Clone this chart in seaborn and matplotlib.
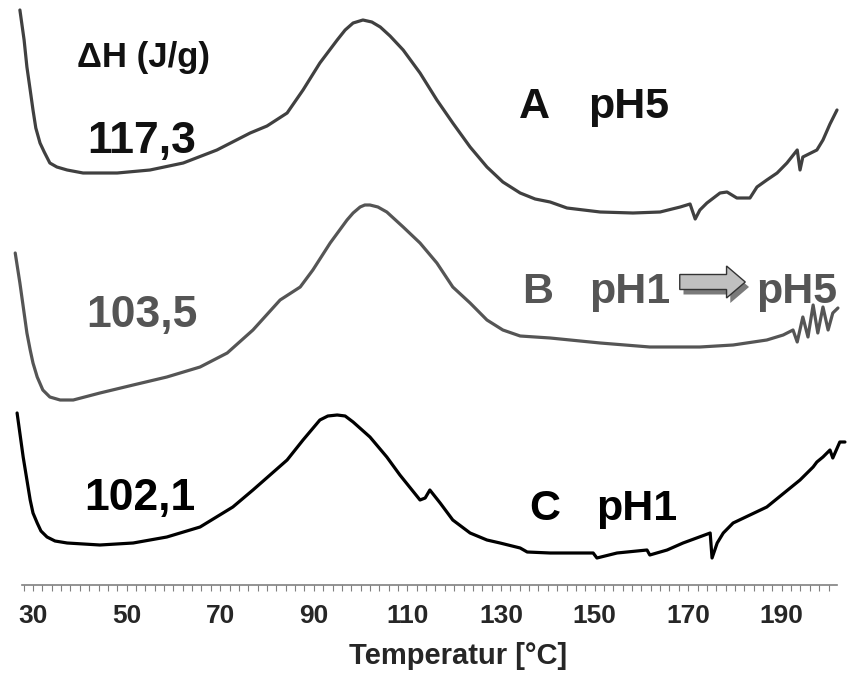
import matplotlib
matplotlib.use("Agg")
import matplotlib.pyplot as plt
import seaborn as sns
import pandas as pd
from matplotlib.patches import FancyArrow
from matplotlib.ticker import MultipleLocator, FixedLocator

# DSC traces (temperature in degC, heat flow in a.u.)
temp_a = [27.2, 28.1, 28.7, 29.4, 30.0, 30.6, 31.5, 32.4, 33.6, 35.1, 37.3, 40.7, 48.0,
          55.0, 62.1, 69.3, 76.4, 80.0, 84.3, 87.7, 91.3, 95.0, 96.7, 98.4, 100.5,
          102.4, 104.2, 106.3, 109.1, 112.7, 116.3, 119.7, 123.4, 127.0, 130.4, 134.1,
          137.3, 140.5, 144.1, 151.2, 158.2, 164.0, 168.3, 170.4, 171.5, 172.5, 174.0,
          176.8, 178.3, 180.4, 183.2, 184.7, 186.8, 189.0, 191.1, 193.3, 193.9, 194.5,
          197.5, 198.8, 200.3, 201.8]
flow_a = [5.90, 5.60, 5.33, 5.10, 4.90, 4.72, 4.57, 4.48, 4.37, 4.33, 4.30, 4.27, 4.27,
          4.30, 4.37, 4.50, 4.67, 4.74, 4.87, 5.10, 5.37, 5.60, 5.70, 5.77, 5.80,
          5.78, 5.73, 5.64, 5.50, 5.27, 5.00, 4.77, 4.53, 4.33, 4.18, 4.07,
          4.01, 3.98, 3.92, 3.88, 3.87, 3.88, 3.93, 3.96, 3.81, 3.90, 3.97,
          4.07, 4.08, 4.02, 4.02, 4.13, 4.20, 4.27, 4.37, 4.50, 4.30, 4.43,
          4.50, 4.60, 4.76, 4.90]

temp_b = [26.2, 27.2, 28.7, 29.4, 30.0, 30.9, 32.1, 33.6, 35.8, 38.6, 44.3, 51.4, 58.6,
          65.7, 71.5, 77.0, 82.8, 87.1, 89.8, 93.5, 97.1, 98.4, 99.9, 100.9, 102.0,
          103.7, 105.6, 109.1, 112.7, 116.3, 119.7, 123.4, 127.0, 130.4, 134.1, 140.5,
          151.2, 161.8, 172.5, 179.6, 186.8, 190.3, 192.4, 193.3, 194.5, 195.6, 196.7,
          197.7, 198.8, 199.9, 200.9, 202.0]
flow_b = [3.47, 3.17, 2.67, 2.50, 2.37, 2.23, 2.10, 2.03, 2.00, 2.00, 2.07, 2.15, 2.23,
          2.33, 2.47, 2.70, 3.00, 3.13, 3.30, 3.57, 3.80, 3.87, 3.93, 3.95, 3.95,
          3.93, 3.88, 3.73, 3.57, 3.37, 3.13, 2.97, 2.80, 2.70, 2.64, 2.62,
          2.57, 2.53, 2.53, 2.55, 2.60, 2.65, 2.70, 2.58, 2.83, 2.63, 2.95,
          2.67, 2.93, 2.70, 2.87, 2.92]

temp_c = [26.6, 27.9, 29.4, 30.0, 30.9, 31.7, 33.0, 34.7, 37.3, 44.3, 51.4, 58.6, 65.7,
          72.7, 77.0, 84.3, 87.7, 91.3, 93.0, 95.0, 96.7, 98.4, 102.0, 105.6, 108.4,
          112.7, 113.8, 114.8, 117.0, 119.7, 123.4, 127.0, 129.8, 134.1, 135.6, 140.5,
          149.7, 150.5, 154.8, 161.2, 161.8, 165.5, 168.9, 174.7, 175.1, 176.2, 177.5,
          179.6, 186.8, 193.9, 196.7, 197.5, 198.8, 200.3, 200.9, 202.4, 203.5]
flow_c = [1.87, 1.43, 1.00, 0.87, 0.77, 0.69, 0.63, 0.59, 0.57, 0.55, 0.57, 0.63, 0.73,
          0.93, 1.10, 1.40, 1.60, 1.80, 1.84, 1.85, 1.84, 1.78, 1.63, 1.43, 1.25,
          1.00, 1.02, 1.10, 0.97, 0.80, 0.67, 0.60, 0.57, 0.52, 0.48, 0.47,
          0.47, 0.42, 0.47, 0.50, 0.45, 0.50, 0.57, 0.67, 0.42, 0.57, 0.67,
          0.77, 0.93, 1.20, 1.33, 1.38, 1.43, 1.50, 1.42, 1.58, 1.58]

samples = ["A", "B", "C"]
enthalpies = ["117,3", "103,5", "102,1"]
x_ticks = [30, 50, 70, 90, 110, 130, 150, 170, 190]

df = pd.concat([
    pd.DataFrame({"T": temp_a, "flow": flow_a, "sample": "A"}),
    pd.DataFrame({"T": temp_b, "flow": flow_b, "sample": "B"}),
    pd.DataFrame({"T": temp_c, "flow": flow_c, "sample": "C"}),
], ignore_index=True)

sns.set_style("white")
plt.rcParams["font.family"] = ["Liberation Sans", "DejaVu Sans"]
plt.rcParams["font.weight"] = "bold"

colors = {"A": "#404040", "B": "#555555", "C": "#000000"}
fig = plt.figure(figsize=(8.48, 6.77), dpi=100)
ax = fig.add_axes([22 / 848, 92 / 677, 815 / 848, 585 / 677])

sns.lineplot(data=df, x="T", y="flow", hue="sample", palette=colors, sort=False,
             estimator=None, legend=False, linewidth=2.3, ax=ax)
for ln in ax.lines:
    ln.set_clip_on(False)
    ln.set_solid_joinstyle("round")

ax.set_xlim(27.65, 201.8)
ax.set_ylim(0.15, 6.0)

for s in ["left", "top", "right"]:
    ax.spines[s].set_visible(False)
ax.spines["bottom"].set_color("#808080")
ax.spines["bottom"].set_linewidth(1.2)
ax.set_yticks([])
ax.set_ylabel("")

ax.xaxis.set_major_locator(FixedLocator(x_ticks))
ax.xaxis.set_minor_locator(MultipleLocator(2))
ax.tick_params(axis="x", which="both", direction="out", length=4, width=0.8,
               color="#808080", bottom=True, pad=10, labelsize=19)
for lab in ax.get_xticklabels():
    lab.set_fontweight("bold")
ax.set_xlabel("Temperatur [°C]", fontsize=21, fontweight="bold")
ax.xaxis.set_label_coords(0.535, -0.098)

# annotations
ax.text(53.7, 5.33, "ΔH (J/g)", ha="center", va="baseline", fontsize=25,
        fontweight="bold", color="#111111")
ax.text(53.3, 4.47, enthalpies[0], ha="center", va="baseline", fontsize=32,
        fontweight="bold", color="#111111")
ax.text(53.3, 2.73, enthalpies[1], ha="center", va="baseline", fontsize=32,
        fontweight="bold", color="#555555")
ax.text(52.9, 0.90, enthalpies[2], ha="center", va="baseline", fontsize=32,
        fontweight="bold", color="#000000")

ax.text(133.8, 4.82, samples[0], ha="left", va="baseline", fontsize=31,
        fontweight="bold", color="#111111")
ax.text(148.6, 4.82, "pH5", ha="left", va="baseline", fontsize=31,
        fontweight="bold", color="#111111")

ax.text(134.5, 2.97, samples[1], ha="left", va="baseline", fontsize=31,
        fontweight="bold", color="#555555")
ax.text(148.8, 2.97, "pH1", ha="left", va="baseline", fontsize=31,
        fontweight="bold", color="#555555")
ax.text(184.5, 2.97, "pH5", ha="left", va="baseline", fontsize=31,
        fontweight="bold", color="#555555")

ax.text(136.0, 0.80, samples[2], ha="left", va="baseline", fontsize=31,
        fontweight="bold", color="#000000")
ax.text(150.3, 0.80, "pH1", ha="left", va="baseline", fontsize=31,
        fontweight="bold", color="#000000")

# block arrow pH1 -> pH5 with shadow
shadow = FancyArrow(169.0, 3.13, 14.0, 0, width=0.15, head_width=0.32,
                    head_length=4.0, length_includes_head=True,
                    facecolor="#7a7a7a", edgecolor="none", zorder=3)
arrow = FancyArrow(168.2, 3.18, 14.0, 0, width=0.15, head_width=0.32,
                   head_length=4.0, length_includes_head=True,
                   facecolor="#c0c0c0", edgecolor="#333333", linewidth=1.0, zorder=4)
ax.add_patch(shadow)
ax.add_patch(arrow)

fig.savefig("out.png", dpi=100)
